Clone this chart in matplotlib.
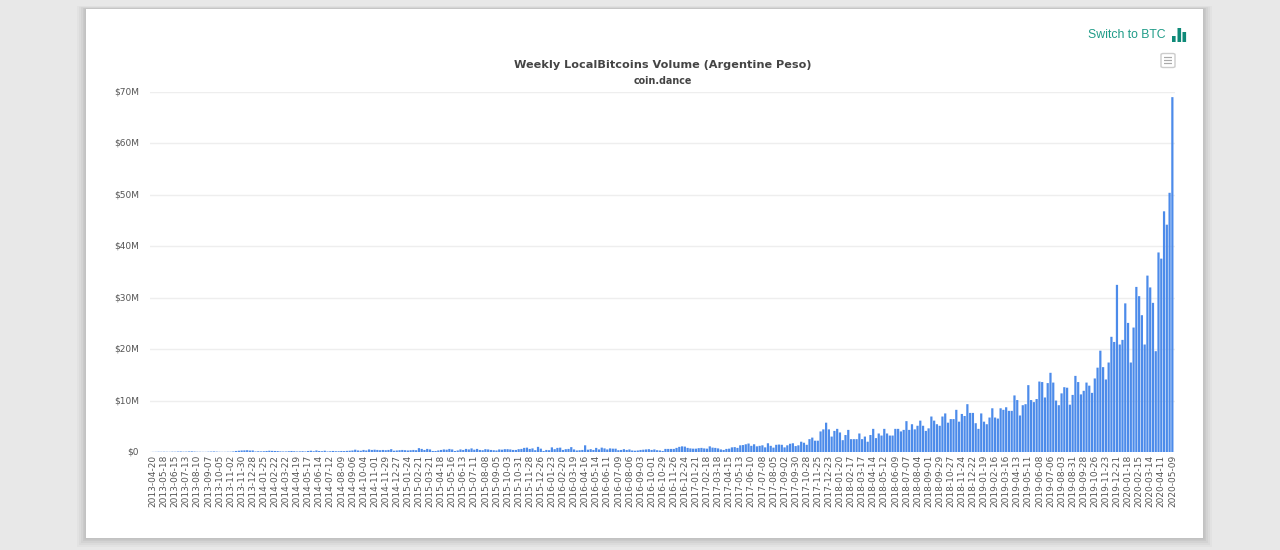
import matplotlib
matplotlib.use("Agg")
import matplotlib.pyplot as plt
from matplotlib.patches import Rectangle, FancyBboxPatch
import numpy as np

W, H = 1280, 550

tick_labels = [
    "2013-04-20", "2013-05-18", "2013-06-15", "2013-07-13", "2013-08-10", "2013-09-07", "2013-10-05",
    "2013-11-02", "2013-11-30", "2013-12-28", "2014-01-25", "2014-02-22", "2014-03-22", "2014-04-19",
    "2014-05-17", "2014-06-14", "2014-07-12", "2014-08-09", "2014-09-06", "2014-10-04", "2014-11-01",
    "2014-11-29", "2014-12-27", "2015-01-24", "2015-02-21", "2015-03-21", "2015-04-18", "2015-05-16",
    "2015-06-13", "2015-07-11", "2015-08-08", "2015-09-05", "2015-10-03", "2015-10-31", "2015-11-28",
    "2015-12-26", "2016-01-23", "2016-02-20", "2016-03-19", "2016-04-16", "2016-05-14", "2016-06-11",
    "2016-07-09", "2016-08-06", "2016-09-03", "2016-10-01", "2016-10-29", "2016-11-26", "2016-12-24",
    "2017-01-21", "2017-02-18", "2017-03-18", "2017-04-15", "2017-05-13", "2017-06-10", "2017-07-08",
    "2017-08-05", "2017-09-02", "2017-09-30", "2017-10-28", "2017-11-25", "2017-12-23", "2018-01-20",
    "2018-02-17", "2018-03-17", "2018-04-14", "2018-05-12", "2018-06-09", "2018-07-07", "2018-08-04",
    "2018-09-01", "2018-09-29", "2018-10-27", "2018-11-24", "2018-12-22", "2019-01-19", "2019-02-16",
    "2019-03-16", "2019-04-13", "2019-05-11", "2019-06-08", "2019-07-06", "2019-08-03", "2019-08-31",
    "2019-09-28", "2019-10-26", "2019-11-23", "2019-12-21", "2020-01-18", "2020-02-15", "2020-03-14",
    "2020-04-11", "2020-05-09",
]

# weekly volume in millions of ARS
volume_2013_2015 = [
    .02, .03, .05, .04, .05, .04, .03, .06, .05, .08, .1, .06, .07, .1, .12, .08,
    .05, .04, .03, .03, .06, .08, .1, .07, .04, .03, .03, .05, .05, .1, .2, .25,
    .3, .32, .35, .28, .3, .1, .15, .12, .15, .2, .25, .22, .2, .18, .12, .1,
    .1, .15, .2, .15, .1, .12, .15, .1, .2, .25, .15, .3, .2, .15, .25, .1,
    .15, .2, .15, .15, .2, .18, .22, .25, .3, .45, .3, .25, .4, .3, .5, .4,
    .45, .4, .35, .4, .35, .4, .55, .25, .3, .35, .4, .35, .3, .35, .4, .35,
    .75, .6, .4, .6, .5, .2, .2, .3, .4, .5, .45, .6, .5, .2, .3, .5,
    .4, .6, .5, .7, .45, .6, .4, .35, .55, .5, .4, .35, .3, .5, .45, .55,
    .55, .5, .4, .4, .55, .6, .8, .85,
]
volume_2016_2017 = [
    .6, .7, .35, 1.0, .65, .2, .4, .35, .9, .55, .8, .85, .4, .55, .6, .95,
    .5, .3, .35, .4, 1.3, .45, .55, .4, .8, .5, .85, .7, .5, .7, .65, .65,
    .35, .4, .55, .4, .5, .3, .25, .3, .4, .45, .5, .55, .4, .5, .35, .3,
    .2, .6, .6, .6, .6, .8, 1.0, 1.1, 1.05, .8, .7, .65, .65, .75, .8, .7,
    .65, 1.1, .85, .8, .7, .5, .4, .6, .65, .9, .95, .8, 1.3, 1.35, 1.5, 1.65,
    1.2, 1.5, 1.1, 1.2, 1.3, .9, 1.7, 1.2, .85, 1.4, 1.45, 1.4, .9, 1.3, 1.6, 1.7,
    1.15, 1.3, 2.0, 1.8, 1.4, 2.5, 2.8, 2.2, 2.2, 4, 4.4, 5.7, 4.4,
]
volume_2018_2019 = [
    3, 4.1, 4.5, 3.8, 2.3, 3.3, 4.3, 2.5, 2.5, 2.5, 3.6, 2.5, 3, 2, 3.3, 4.5, 2.7,
    3.6, 3.2, 4.5, 3.6, 3.2, 3.2, 4.5, 4.5, 4, 4.3, 6, 4.3, 5.4, 4.4, 5.1, 6.1,
    5.1, 4.1, 4.6, 6.9, 6.1, 5.4, 5.1, 6.9, 7.5, 5.7, 6.4, 6.4, 8.2, 5.9, 7.4, 7,
    9.3, 7.6, 7.6, 5.6, 4.5, 7.5, 5.9, 5.4, 6.7, 8.5, 6.7, 6.5, 8.5, 8.2, 8.7, 8,
    8, 11, 10.1,
]
volume_2019_2020 = [
    7.1, 9.1, 9.3, 13, 10.1, 9.7, 10.3, 13.7, 13.6, 10.6, 13.4, 15.4, 13.5, 10,
    9.1, 11.4, 12.6, 12.5, 9.2, 11.1, 14.8, 13.6, 11.2, 11.9, 13.5, 12.9, 11.5, 14.3,
    16.4, 19.7, 16.5, 14.1, 17.4, 22.4, 21.4, 32.5, 20.9, 21.8, 28.9, 25.1, 17.4, 24.2,
    32.1, 30.3, 26.6, 20.9, 34.3, 32, 29, 19.6, 38.8, 37.6, 46.8, 44.2, 50.4, 69,
]
volume = volume_2013_2015 + volume_2016_2017 + volume_2018_2019 + volume_2019_2020

y_ticks = [0, 10, 20, 30, 40, 50, 60, 70]
y_labels = ["$0", "$10M", "$20M", "$30M", "$40M", "$50M", "$60M", "$70M"]

BAR_COLOR = "#4c8bea"
TEAL = "#1f9c88"
TEXT_GREY = "#555555"


def fx(px):
    return px / W


def fy(py):
    return 1 - py / H


def px_rect(x0, y0, x1, y1, zorder=5, **kw):
    rect = Rectangle((fx(x0), fy(y1)), (x1 - x0) / W, (y1 - y0) / H,
                     transform=fig.transFigure, zorder=zorder, **kw)
    rect.set_snap(False)
    fig.add_artist(rect)


fig = plt.figure(figsize=(W / 100, H / 100), dpi=100, facecolor="#e8e8e8")

# soft card shadow, sits behind the axes
for grow, alpha in [(9, .03), (7, .04), (5, .05), (3, .06), (1.5, .06)]:
    px_rect(86 - grow, 9 - grow / 3, 1203 + grow, 538 + grow, zorder=-5,
            facecolor="#444444", alpha=alpha, edgecolor="none")
px_rect(86, 9, 1203, 538, zorder=-4, facecolor="white", edgecolor="none")

# one week is 2.77 px wide, first bar centred on x = 153
ax_left, ax_right = 150, 1175
ax = fig.add_axes([fx(ax_left), fy(452), (ax_right - ax_left) / W, 360 / H])
ax.patch.set_alpha(0)
x = np.arange(len(volume))
bars = ax.bar(x, volume, width=0.8, color=BAR_COLOR, linewidth=0, zorder=3)
# no pixel snapping, keeps all bars the same width and the tiny early ones visible
for bar in bars:
    bar.set_snap(False)
ax.set_xlim((ax_left - 153) / 2.77, (ax_right - 153) / 2.77)
ax.set_ylim(0, 70)
ax.set_yticks(y_ticks)
ax.set_yticklabels(y_labels, fontsize=6.5, color=TEXT_GREY, fontfamily="DejaVu Sans", va="center")
ax.set_xticks(x[::4])
ax.set_xticklabels(tick_labels, rotation=90, fontsize=6.45, color=TEXT_GREY, fontfamily="DejaVu Sans")
ax.tick_params(axis="both", length=0)
ax.tick_params(axis="x", pad=2)
ax.tick_params(axis="y", pad=8)
ax.grid(axis="y", color="#eeeeee", linewidth=1, zorder=0)
for side in ["top", "right", "left", "bottom"]:
    ax.spines[side].set_visible(False)

fig.text(fx(662.5), fy(65.5), "Weekly LocalBitcoins Volume (Argentine Peso)", ha="center", va="center",
         fontsize=8.1, fontweight="bold", color="#444444", fontfamily="DejaVu Sans")
fig.text(fx(662.5), fy(80.5), "coin.dance", ha="center", va="center",
         fontsize=6.9, fontweight="bold", color="#444444", fontfamily="DejaVu Sans")

fig.text(fx(1166), fy(35), "Switch to BTC", ha="right", va="center",
         fontsize=8.8, color=TEAL, fontfamily="Liberation Sans")
# small bar chart icon
for x0, top in [(1172, 36), (1177.5, 28), (1182.5, 32)]:
    px_rect(x0, top, x0 + 3.6, 42, facecolor="#0f8a78", edgecolor="none")

# export menu button
fig.add_artist(FancyBboxPatch((fx(1161), fy(67.5)), 14 / W, 14 / H, boxstyle="round,pad=0,rounding_size=0.002",
                              transform=fig.transFigure, facecolor="white", edgecolor="#cccccc", linewidth=1))
for py in [57.5, 60.5, 63.5]:
    px_rect(1164, py - .6, 1172, py + .6, facecolor="#aaaaaa", edgecolor="none")

fig.savefig("out.png", dpi=100, facecolor=fig.get_facecolor())
